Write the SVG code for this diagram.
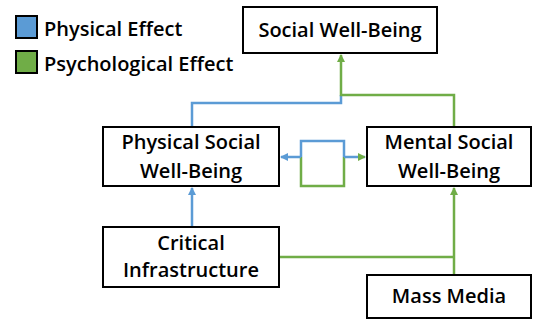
<svg xmlns="http://www.w3.org/2000/svg" width="537" height="320" viewBox="0 0 537 320">
<style>
.box{fill:#fff;stroke:#000;stroke-width:2}
.t{font-family:"Open Sans","Liberation Sans",sans-serif;font-weight:600;font-size:20px;fill:#000;text-anchor:middle}
.lt{font-family:"Open Sans","Liberation Sans",sans-serif;font-weight:600;font-size:20px;fill:#000}
.b{fill:none;stroke:#5B9BD5;stroke-width:2.5}
.g{fill:none;stroke:#70AD47;stroke-width:2.5}
</style>
<defs>
<marker id="ab" markerWidth="8" markerHeight="8" refX="7" refY="4" orient="auto" markerUnits="userSpaceOnUse"><path d="M0,0 L8,4 L0,8 Z" fill="#5B9BD5"/></marker>
<marker id="ag" markerWidth="8" markerHeight="8" refX="7" refY="4" orient="auto" markerUnits="userSpaceOnUse"><path d="M0,0 L8,4 L0,8 Z" fill="#70AD47"/></marker>
</defs>
<g id="legend">
<rect x="16" y="16" width="21" height="22" fill="#5B9BD5" stroke="#000" stroke-width="2"/>
<text class="lt" x="44" y="36">Physical Effect</text>
<rect x="16" y="51" width="21" height="22" fill="#70AD47" stroke="#000" stroke-width="2"/>
<text class="lt" x="44" y="71">Psychological Effect</text>
</g>
<g id="connectors">
<path class="b" d="M192,127 V103 H341 V95"/>
<path class="g" d="M454,127 V95 H341 V55" marker-end="url(#ag)"/>
<path class="b" d="M301,157 V141 H344 V157"/>
<path class="g" d="M301,157 V186 H344 V157"/>
<path class="b" d="M301,157 H281" marker-end="url(#ab)"/>
<path class="b" d="M344,157 H365" marker-end="url(#ag)"/>
<path class="b" d="M192,227 V188" marker-end="url(#ab)"/>
<path class="g" d="M454,275 V188" marker-end="url(#ag)"/>
<path class="g" d="M279,257 H454"/>
</g>
<g id="social">
<rect class="box" x="243" y="7" width="194" height="46"/>
<text class="t" x="340" y="37">Social Well-Being</text>
</g>
<g id="physical">
<rect class="box" x="103" y="127" width="176" height="59"/>
<text class="t" x="191" y="149">Physical Social</text>
<text class="t" x="191" y="178">Well-Being</text>
</g>
<g id="mental">
<rect class="box" x="367" y="127" width="164" height="59"/>
<text class="t" x="449" y="149">Mental Social</text>
<text class="t" x="449" y="178">Well-Being</text>
</g>
<g id="critical">
<rect class="box" x="103" y="227" width="176" height="60"/>
<text class="t" x="191" y="250">Critical</text>
<text class="t" x="191" y="277">Infrastructure</text>
</g>
<g id="media">
<rect class="box" x="367" y="275" width="164" height="43"/>
<text class="t" x="449" y="303">Mass Media</text>
</g>
</svg>
